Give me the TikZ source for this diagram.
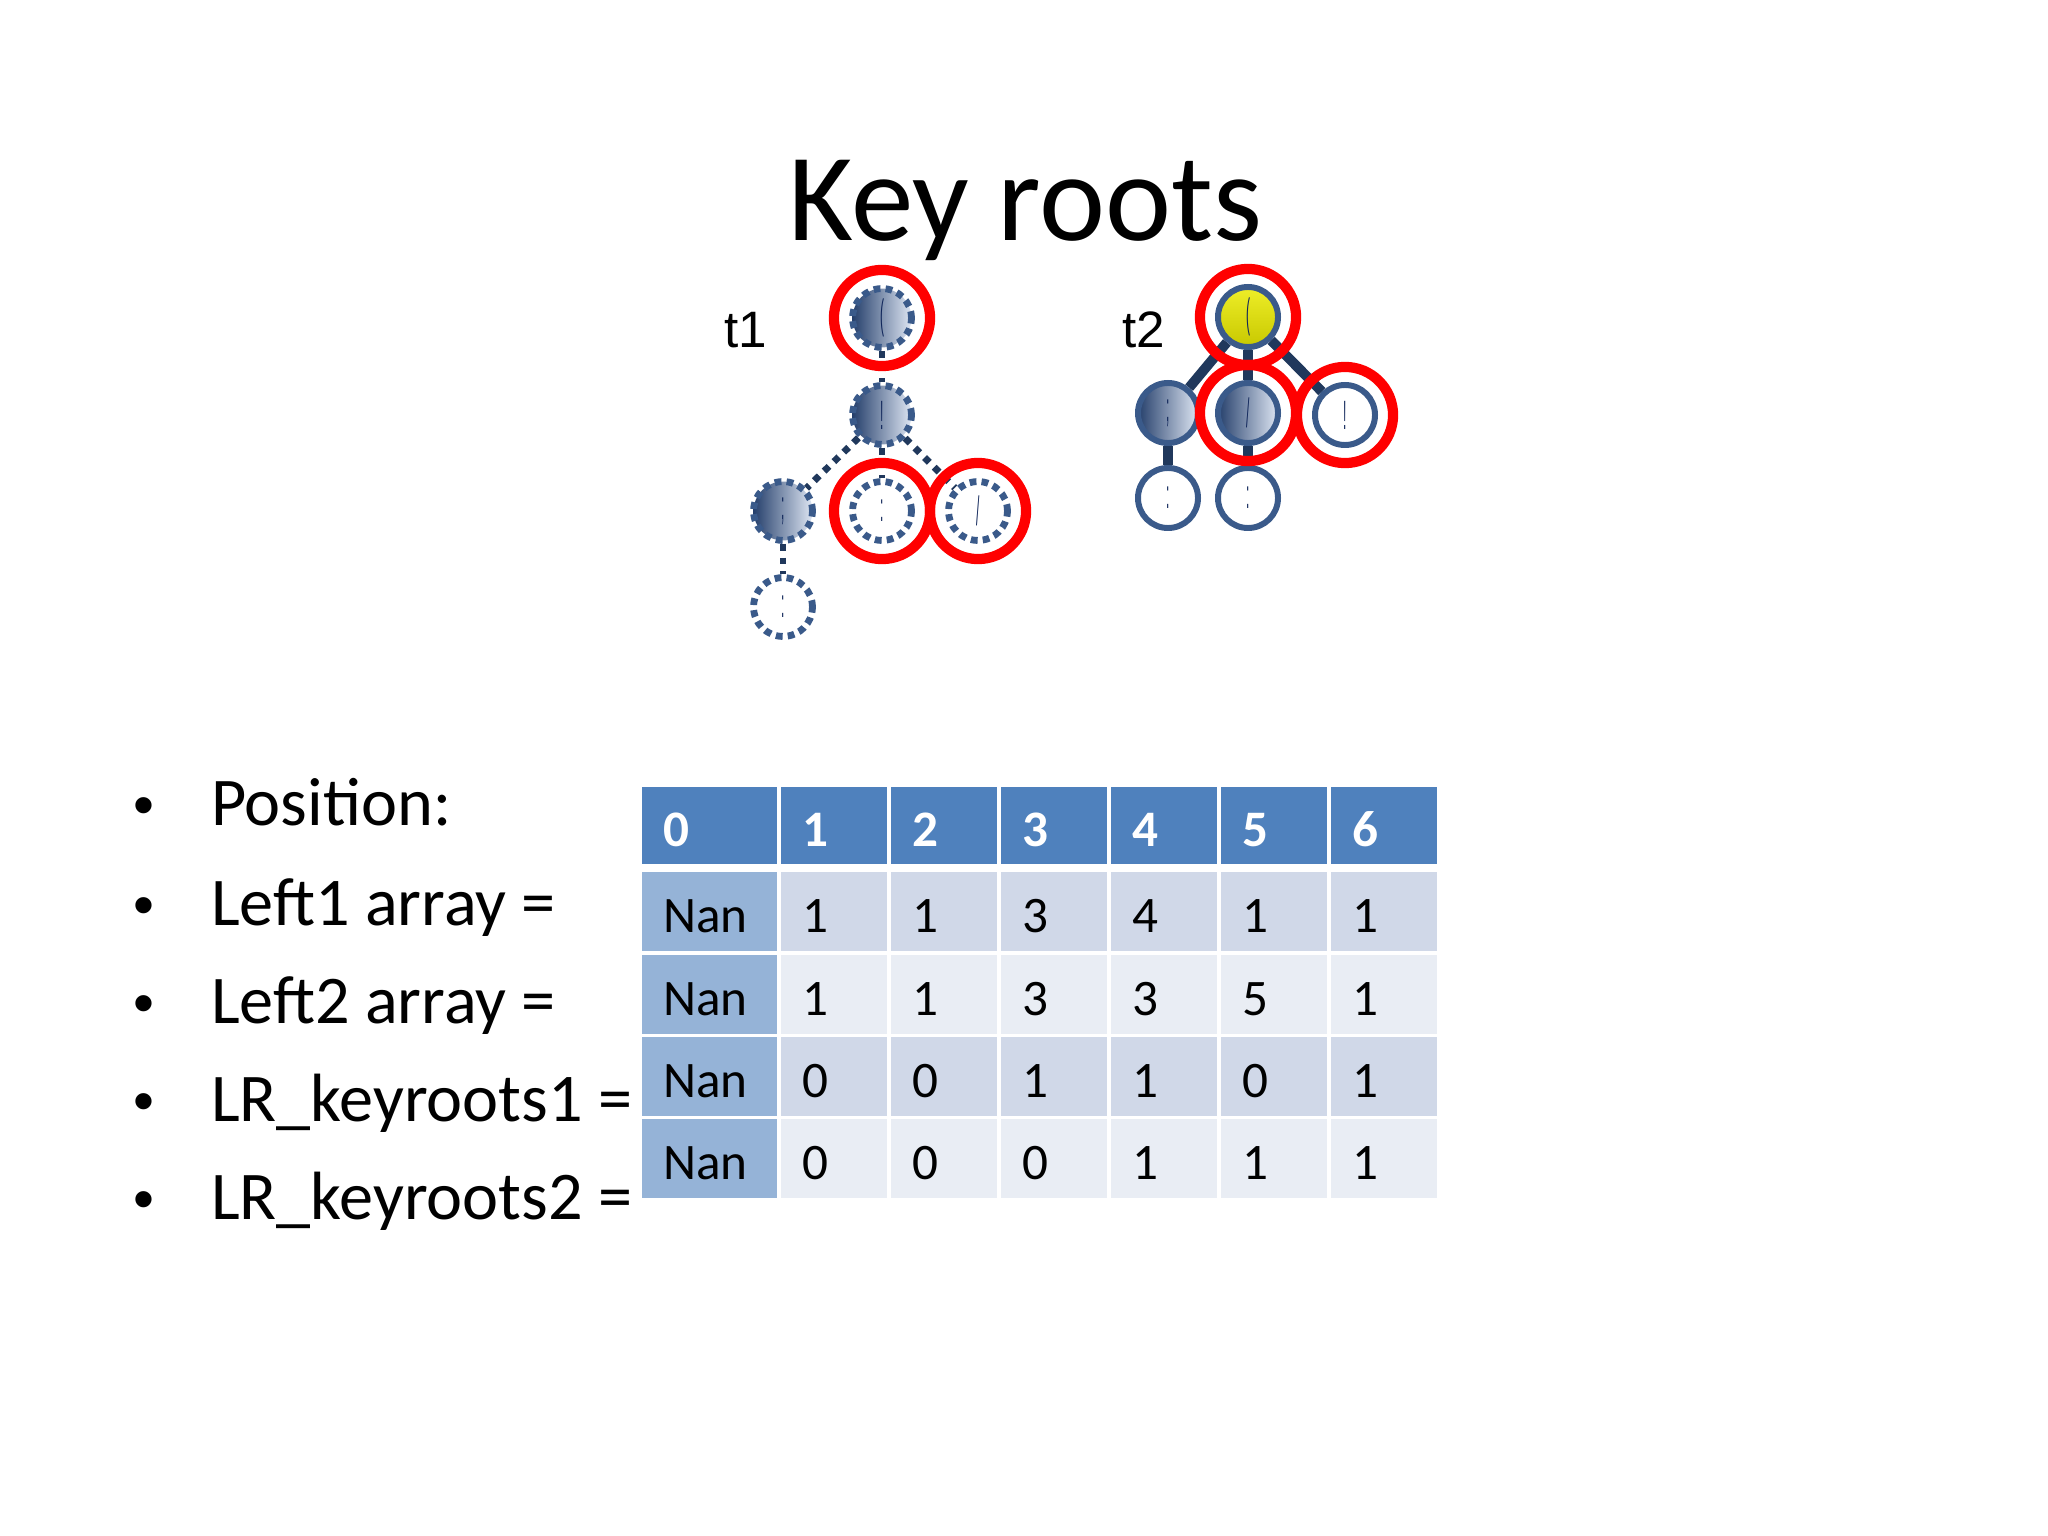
\documentclass[tikz,border=0pt]{standalone}
\usepackage{fontspec}
\setmainfont{Carlito}
\newfontfamily\labelfont{Liberation Sans}

\definecolor{ringred}{RGB}{255,0,0}
\definecolor{dotblue}{RGB}{58,90,138}
\definecolor{edgeblue}{RGB}{32,56,92}
\definecolor{darkfill}{RGB}{38,64,108}
\definecolor{lightfill}{RGB}{222,230,243}
\definecolor{yellowtop}{RGB}{238,238,40}
\definecolor{yellowbot}{RGB}{200,200,0}
\definecolor{hdrblue}{RGB}{79,129,189}
\definecolor{firstcol}{RGB}{149,179,215}
\definecolor{bandA}{RGB}{208,216,232}
\definecolor{bandB}{RGB}{233,237,244}
\definecolor{glyphblue}{RGB}{16,38,90}

\newcommand{\glyph}[1]{\scalebox{0.35}[1.2]{#1}}

\tikzset{every picture/.style={line width=0.75pt}}
\tikzset{
  dotnode/.style={circle, inner sep=0pt, minimum size=20.7pt, draw=dotblue, line width=2.4pt,
    dash pattern=on 2.4pt off 1.8pt, fill=white, text=glyphblue, font=\fontsize{12}{12}\labelfont},
  solidnode/.style={circle, inner sep=0pt, minimum size=21.1pt, draw=dotblue, line width=2.1pt,
    fill=white, text=glyphblue, font=\fontsize{12}{12}\labelfont},
  shaded/.style={left color=darkfill, right color=lightfill},
  yellowed/.style={top color=yellowtop, bottom color=yellowbot},
  dotedge/.style={draw=edgeblue, line width=2.4pt, dash pattern=on 2.4pt off 2.4pt},
  thickedge/.style={draw=edgeblue, line width=3.5pt},
  ring/.style={draw=ringred, line width=3.6pt},
  treelabel/.style={anchor=base west, inner sep=0pt, font=\fontsize{18}{18}\labelfont},
  bulletdot/.style={anchor=base west, inner sep=0pt, font=\fontsize{21}{21}\labelfont},
  bullettext/.style={anchor=base west, inner sep=0pt, font=\fontsize{24}{24}\selectfont},
  hdrtext/.style={anchor=base west, inner sep=0pt, text=white, font=\fontsize{18}{18}\selectfont\bfseries},
  celltext/.style={anchor=base west, inner sep=0pt, font=\fontsize{18}{18}\selectfont}
}

\begin{document}
\begin{tikzpicture}[x=0.3515625pt,y=-0.3515625pt]
\useasboundingbox (0,0) rectangle (2048,1536);

% Title
\node [anchor=base, inner sep=0pt, font=\fontsize{44}{44}\selectfont] (title) at (1025,241) {Key roots};

% Tree labels
\node [treelabel] (t1lab) at (723,348) {t1};
\node [treelabel] (t2lab) at (1121,348) {t2};

%Tree t1
\node [dotnode, shaded] (a1) at (882,318) {\glyph{(}};
\node [dotnode, shaded] (a2) at (882,415) {\glyph{!}};
\node [dotnode, shaded] (a3) at (783,511) {\glyph{;}};
\node [dotnode] (a4) at (882,511) {\glyph{:}};
\node [dotnode] (a5) at (978,511) {\glyph{/}};
\node [dotnode] (a6) at (783,607) {\glyph{:}};
\draw [dotedge] (a1) -- (a2);
\draw [dotedge] (a2) -- (a3);
\draw [dotedge] (a2) -- (a4);
\draw [dotedge] (a2) -- (a5);
\draw [dotedge] (a3) -- (a6);

%Tree t2
\node [solidnode, yellowed] (b1) at (1248,317) {\glyph{(}};
\node [solidnode, shaded] (b2) at (1168,413) {\glyph{;}};
\node [solidnode, shaded] (b3) at (1248,413) {\glyph{/}};
\node [solidnode] (b4) at (1345,415) {\glyph{!}};
\node [solidnode] (b5) at (1168,498) {\glyph{:}};
\node [solidnode] (b6) at (1248,498) {\glyph{:}};
\draw [thickedge] (b1) -- (b2);
\draw [thickedge] (b1) -- (b3);
\draw [thickedge] (b1) -- (b4);
\draw [thickedge] (b2) -- (b5);
\draw [thickedge] (b3) -- (b6);

%Key root rings
\draw [ring] (a1) circle [radius=16.9pt];
\draw [ring] (a4) circle [radius=16.9pt];
\draw [ring] (a5) circle [radius=16.9pt];
\draw [ring] (b1) circle [radius=16.9pt];
\draw [ring] (b3) circle [radius=16.9pt];
\draw [ring] (b4) circle [radius=16.9pt];

% Bullet list
\node [bulletdot] (d1) at (132,825) {\textbullet};
\node [bulletdot] (d2) at (132,925) {\textbullet};
\node [bulletdot] (d3) at (132,1023) {\textbullet};
\node [bulletdot] (d4) at (132,1121) {\textbullet};
\node [bulletdot] (d5) at (132,1219) {\textbullet};
\node [bullettext] (pos) at (210,825) {Position:};
\node [bullettext] (left1) at (210,925) {Left1 array =};
\node [bullettext] (left2) at (210,1023) {Left2 array =};
\node [bullettext] (lr1) at (210,1121) {LR\_keyroots1 =};
\node [bullettext] (lr2) at (210,1219) {LR\_keyroots2 =};

%Table header
\fill [hdrblue] (642,787) rectangle ++(135,77);
\node [hdrtext] (h0) at (662,846) {0};
\foreach \v [count=\k] in {1,2,3,4,5,6} {
  \pgfmathsetmacro{\xl}{781+(\k-1)*110}
  \fill [hdrblue] (\xl,787) rectangle ++(106,77);
  \node [hdrtext] (h\k) at (\xl+20,846) {\v};
}

%Table rows
\fill [firstcol] (642,872) rectangle ++(135,79);
\node [celltext] (r1c0) at (662,932) {Nan};
\foreach \v [count=\k] in {1,1,3,4,1,1} {
  \pgfmathsetmacro{\xl}{781+(\k-1)*110}
  \fill [bandA] (\xl,872) rectangle ++(106,79);
  \node [celltext] (r1c\k) at (\xl+20,932) {\v};
}
\fill [firstcol] (642,955) rectangle ++(135,79);
\node [celltext] (r2c0) at (662,1015) {Nan};
\foreach \v [count=\k] in {1,1,3,3,5,1} {
  \pgfmathsetmacro{\xl}{781+(\k-1)*110}
  \fill [bandB] (\xl,955) rectangle ++(106,79);
  \node [celltext] (r2c\k) at (\xl+20,1015) {\v};
}
\fill [firstcol] (642,1037) rectangle ++(135,79);
\node [celltext] (r3c0) at (662,1097) {Nan};
\foreach \v [count=\k] in {0,0,1,1,0,1} {
  \pgfmathsetmacro{\xl}{781+(\k-1)*110}
  \fill [bandA] (\xl,1037) rectangle ++(106,79);
  \node [celltext] (r3c\k) at (\xl+20,1097) {\v};
}
\fill [firstcol] (642,1119) rectangle ++(135,79);
\node [celltext] (r4c0) at (662,1179) {Nan};
\foreach \v [count=\k] in {0,0,0,1,1,1} {
  \pgfmathsetmacro{\xl}{781+(\k-1)*110}
  \fill [bandB] (\xl,1119) rectangle ++(106,79);
  \node [celltext] (r4c\k) at (\xl+20,1179) {\v};
}
\end{tikzpicture}
\end{document}
